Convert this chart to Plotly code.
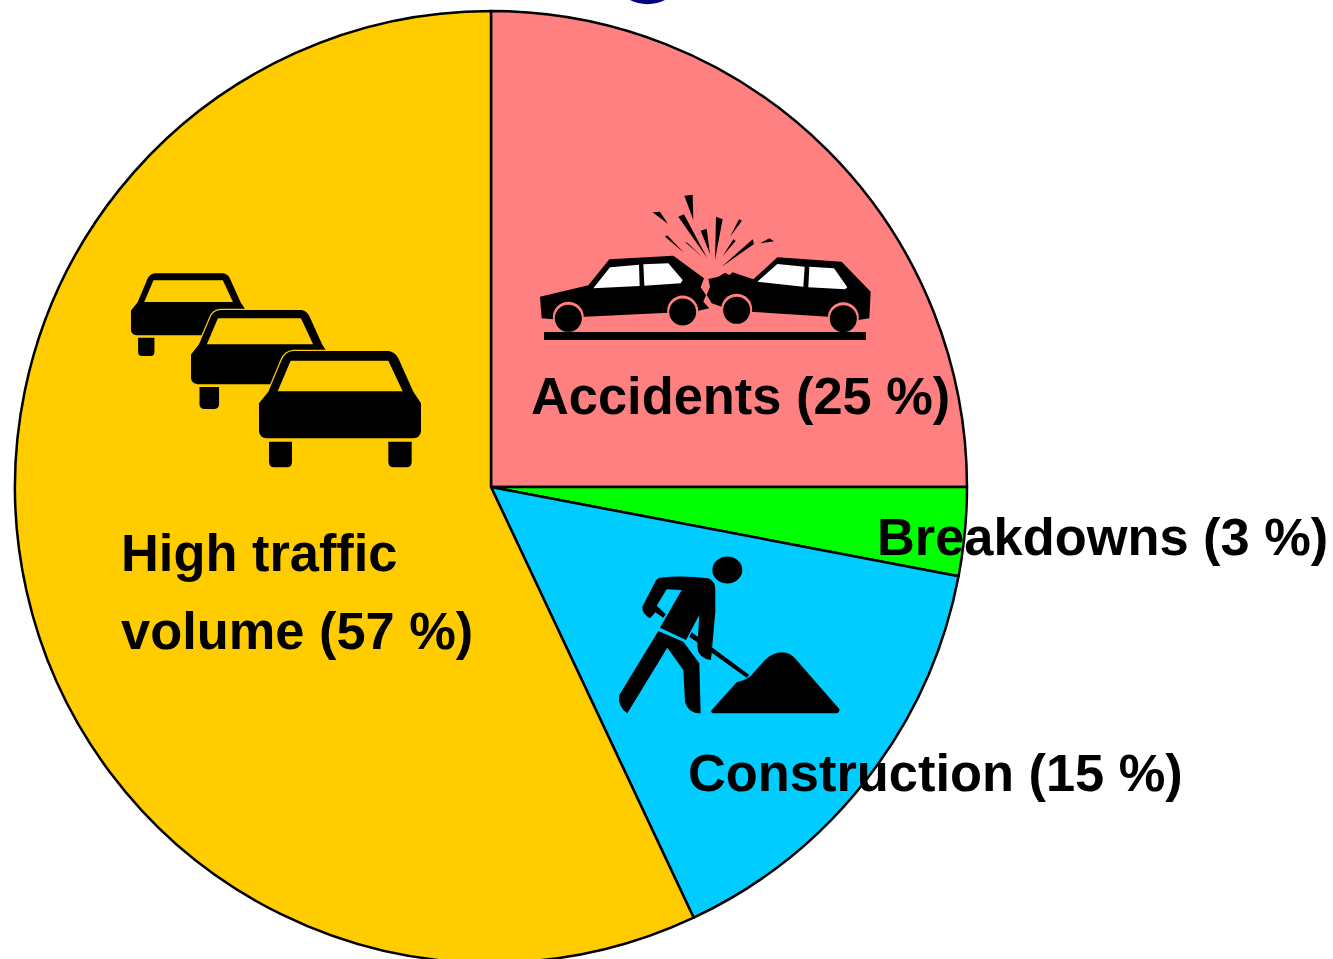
import re
import plotly.graph_objects as go

# Data
categories = ["Accidents", "Breakdowns", "Construction", "High traffic volume"]
values = [25, 3, 15, 57]
slice_colors = ["#FF8080", "#00FF00", "#00CCFF", "#FFCC00"]
label_lines = ["Accidents (25 %)", "Breakdowns (3 %)", "Construction (15 %)", "High traffic", "volume (57 %)"]
label_left = [529, 875, 686, 119, 119]
label_mid = [396, 537, 773, 553, 631]

W, H = 1333, 1000  # canvas is a little taller than the window: the pie runs off its lower edge
CX, CY, R = 491, 487, 476


def px(path):
    """Pixel path -> paper path."""
    out = []
    toks = re.findall(r"[MLQCZ]|-?\d+\.?\d*", path)
    is_x = True
    for t in toks:
        if t.isalpha():
            out.append(t)
            is_x = True
        else:
            v = float(t)
            out.append(f"{v / W:.5f}" if is_x else f"{1 - v / H:.5f}")
            is_x = not is_x
    res, i = "", 0
    while i < len(out):
        if out[i].isalpha():
            res += out[i]
            i += 1
        else:
            res += out[i] + "," + out[i + 1] + " "
            i += 2
    return res.strip()


shapes = []


def add(path, fill="#000000", line=None, lw=0):
    shapes.append(dict(type="path", xref="paper", yref="paper", path=px(path), fillcolor=fill,
                       line=dict(color=line or fill, width=lw), layer="above"))


def poly(pts, ox, oy, fill="#000000", k=3.0):
    d = "M" + " L".join(f"{ox + x / k:.2f},{oy + y / k:.2f}" for x, y in pts) + " Z"
    add(d, fill)


def zpath(d, ox, oy, fill="#000000", k=3.0):
    """Path written in 3x crop coordinates, moved to its place on the page."""
    toks = re.findall(r"[MLQCZ]|-?\d+\.?\d*", d)
    out, is_x = [], True
    for t in toks:
        if t.isalpha():
            out.append(t)
            is_x = True
        else:
            v = float(t)
            out.append(f"{(ox if is_x else oy) + v / k:.2f}")
            is_x = not is_x
    add(" ".join(out), fill)


def ell(cx, cy, rx, ry, fill="#000000"):
    shapes.append(dict(type="circle", xref="paper", yref="paper",
                       x0=(cx - rx) / W, x1=(cx + rx) / W,
                       y0=1 - (cy + ry) / H, y1=1 - (cy - ry) / H,
                       fillcolor=fill, line=dict(width=0), layer="above"))


# ---- crash icon (zoomed coordinates, origin 530,180)
ox, oy = 530, 180
PINK = "#FF8080"
sparks = [[(368, 97), (390, 95), (414, 132)], [(463, 47), (488, 44), (490, 120)],
          [(445, 110), (462, 103), (532, 235)], [(512, 152), (530, 146), (540, 222)],
          [(558, 110), (578, 118), (555, 240)], [(627, 118), (636, 122), (600, 170)],
          [(610, 178), (617, 183), (578, 228)], [(668, 178), (672, 192), (575, 260)],
          [(405, 170), (412, 166), (462, 218)], [(465, 186), (472, 188), (518, 232)],
          [(690, 190), (718, 175), (732, 184)]]
for s in sparks:
    poly(s, ox, oy)
poly([(30, 350), (175, 316), (238, 238), (430, 227), (522, 295), (512, 322), (528, 345), (520, 365),
      (538, 385), (505, 392), (415, 398), (165, 410), (70, 418), (35, 415)], ox, oy)
poly([(535, 297), (565, 290), (585, 278), (598, 285), (608, 277), (670, 298), (742, 232), (935, 245),
      (1022, 335), (1018, 415), (985, 420), (895, 410), (660, 395), (575, 380), (545, 370), (530, 345),
      (540, 320)], ox, oy)
for wx, wy in [(115, 412), (458, 393), (620, 388), (940, 413)]:
    ell(ox + wx / 3, oy + wy / 3, 15.5, 15.5, PINK)
for wx, wy in [(115, 415), (458, 396), (620, 391), (940, 416)]:
    ell(ox + wx / 3, oy + wy / 3, 13.5, 13.5)
poly([(190, 325), (240, 262), (327, 254), (329, 318)], ox, oy, "#FFFFFF")
poly([(340, 253), (415, 250), (458, 300), (452, 310), (343, 317)], ox, oy, "#FFFFFF")
poly([(682, 305), (742, 252), (824, 260), (820, 320)], ox, oy, "#FFFFFF")
poly([(838, 260), (912, 265), (952, 322), (945, 328), (835, 322)], ox, oy, "#FFFFFF")
poly([(42, 456), (1008, 456), (1008, 480), (42, 480)], ox, oy)


# ---- traffic icon
def car(left, top, s, halo):
    ox, oy = 120, 260
    X = lambda x: ox + (left + (x - 417) * s) / 3
    Y = lambda y: oy + (top + (y - 273) * s) / 3
    Yellow = "#FFCC00"
    body = (f"M{X(417):.2f},{Y(430):.2f} L{X(445):.2f},{Y(395):.2f} L{X(485):.2f},{Y(300):.2f} "
            f"Q{X(495):.2f},{Y(275):.2f} {X(520):.2f},{Y(273):.2f} L{X(805):.2f},{Y(273):.2f} "
            f"Q{X(825):.2f},{Y(275):.2f} {X(835):.2f},{Y(295):.2f} L{X(880):.2f},{Y(395):.2f} "
            f"L{X(903):.2f},{Y(430):.2f} L{X(903):.2f},{Y(515):.2f} Q{X(900):.2f},{Y(533):.2f} {X(880):.2f},{Y(535):.2f} "
            f"L{X(440):.2f},{Y(535):.2f} Q{X(420):.2f},{Y(533):.2f} {X(417):.2f},{Y(515):.2f} Z")
    for a, b in [(447, 516), (805, 875)]:
        add(f"M{X(a):.2f},{Y(545):.2f} L{X(b):.2f},{Y(545):.2f} L{X(b):.2f},{Y(605):.2f} "
            f"Q{X(b):.2f},{Y(622):.2f} {X(b - 16):.2f},{Y(622):.2f} L{X(a + 16):.2f},{Y(622):.2f} "
            f"Q{X(a):.2f},{Y(622):.2f} {X(a):.2f},{Y(605):.2f} Z")
    if halo:
        add(body, Yellow, Yellow, 2.5)
    add(body, "#000000")
    add(f"M{X(473):.2f},{Y(394):.2f} L{X(512):.2f},{Y(302):.2f} L{X(805):.2f},{Y(302):.2f} L{X(848):.2f},{Y(394):.2f} Z", Yellow)


car(33, 40, 0.71, False)
car(213, 150, 0.85, True)
car(417, 273, 1.0, True)

# ---- road-work icon (origin 610,545)
ox, oy = 610, 545
ell(ox + 352 / 3, oy + 75 / 3, 15, 13.5)
zpath("M150,98 Q220,90 295,100 Q316,108 316,135 L316,200 L303,345 Q275,342 265,320 L262,305 L268,210 "
      "L228,285 L150,248 L215,135 L170,133 L140,182 L168,208 L160,218 L136,202 L120,220 Q95,205 97,185 "
      "L135,112 Q140,100 150,98 Z", ox, oy)
poly([(245, 262), (418, 390), (410, 398), (238, 275)], ox, oy)
zpath("M145,258 L220,290 L268,355 L272,505 Q235,505 225,470 L220,375 L172,308 L52,505 Q22,485 28,450 Z", ox, oy)
zpath("M305,495 L380,412 Q400,408 420,395 L465,345 Q490,322 515,322 Q540,322 555,340 L688,492 "
      "Q690,505 675,505 L315,505 Q300,505 305,495 Z", ox, oy)

# ---- clipped descender of a title above the image
add("M630,0 C640,5.5 655,5.5 665,0 Z", "#000080")

fig = go.Figure(go.Pie(
    labels=categories, values=values, sort=False, direction="clockwise", rotation=0,
    marker=dict(colors=slice_colors, line=dict(color="#000000", width=2.5)),
    textinfo="none", hoverinfo="label+percent", showlegend=False,
    domain=dict(x=[(CX - R) / W, (CX + R) / W], y=[1 - (CY + R) / H, 1 - (CY - R) / H]),
))

annotations = [
    dict(text=f"<b>{t}</b>", x=l / W, y=1 - m / H, xref="paper", yref="paper", xanchor="left", yanchor="middle",
         showarrow=False, font=dict(family="Liberation Sans", size=52.4, color="#000000"))
    for t, l, m in zip(label_lines, label_left, label_mid)
]

fig.update_layout(width=W, height=H, margin=dict(l=0, r=0, t=0, b=0), paper_bgcolor="#FFFFFF",
                  shapes=shapes, annotations=annotations)
fig.write_html("out.html", config=dict(displayModeBar=False),
               post_script="document.body.style.margin='0';document.documentElement.style.overflow='hidden';document.body.style.overflow='hidden';")
